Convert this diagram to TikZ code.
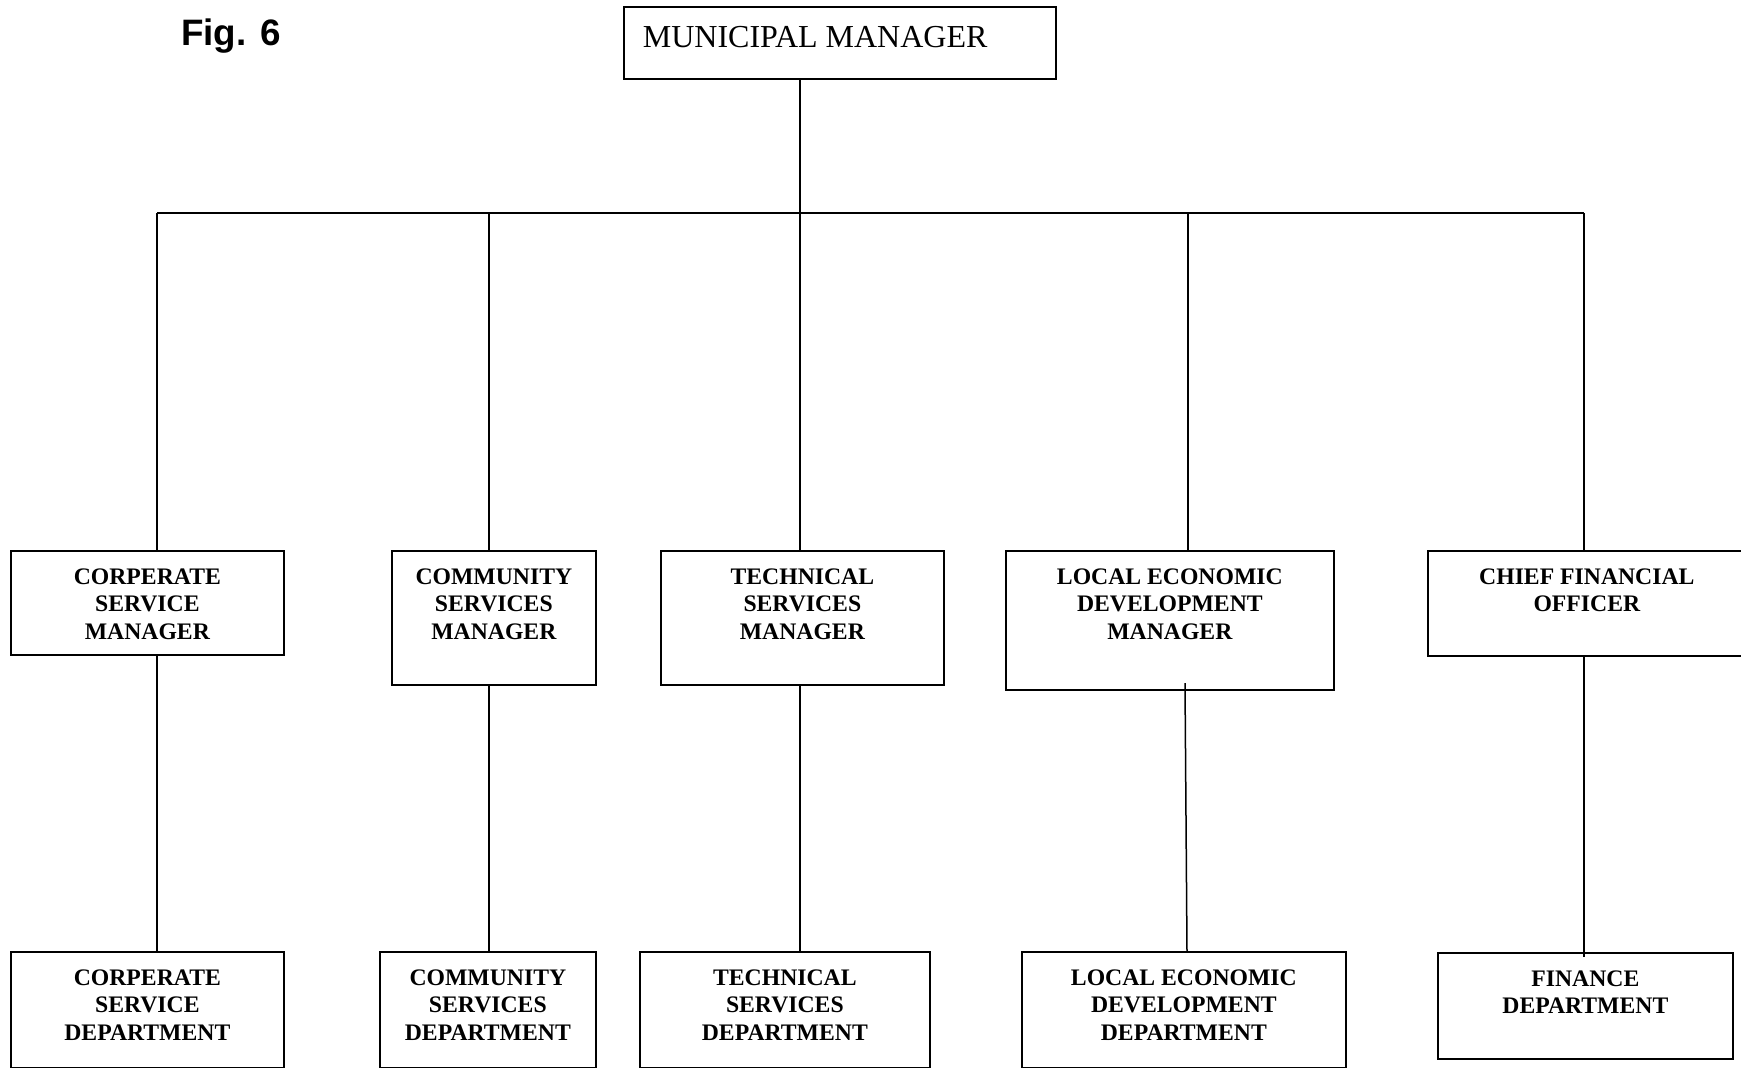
\documentclass[tikz,border=0pt]{standalone}
\usepackage{fontspec}
\setmainfont{Liberation Serif}
\newfontfamily\figfont{Liberation Sans}
\newcommand\bt[3]{\parbox[c][#2pt][t]{#1pt}{\centering\rule{0pt}{33.5pt}#3\par}}
\tikzset{
  orgbox/.style={draw, line width=1.7pt, inner sep=0pt, anchor=north west,
    font=\fontsize{23.7pt}{27.5pt}\selectfont\bfseries},
  conn/.style={line width=1.5pt},
}
\begin{document}
\begin{tikzpicture}[x=1pt,y=-1pt]
\clip (0,0) rectangle (1741,1068);
% title
\node[anchor=base west, inner sep=0pt, font=\fontsize{36.8pt}{40pt}\selectfont\figfont\bfseries] (fig) at (181,45) {Fig. 6};
% top box
\node[orgbox, font=\fontsize{32pt}{34pt}\selectfont] (mm) at (623,6)
  {\parbox[c][72pt][t]{432pt}{\noindent\hspace*{19pt}\rule{0pt}{41pt}MUNICIPAL MANAGER\par}};
% managers
\node[orgbox] (csm)  at (10,550)   {\bt{273}{104}{CORPERATE\\SERVICE\\MANAGER}};
\node[orgbox] (comsm) at (391,550) {\bt{204}{134}{COMMUNITY\\SERVICES\\MANAGER}};
\node[orgbox] (tsm)  at (660,550)  {\bt{283}{134}{TECHNICAL\\SERVICES\\MANAGER}};
\node[orgbox] (ledm) at (1005,550) {\bt{328}{139}{LOCAL ECONOMIC\\DEVELOPMENT\\MANAGER}};
\node[orgbox] (cfo)  at (1427,550) {\bt{318}{105}{CHIEF FINANCIAL\\OFFICER}};
% departments
\node[orgbox] (csd)  at (10,951)   {\bt{273}{116}{CORPERATE\\SERVICE\\DEPARTMENT}};
\node[orgbox] (comsd) at (379,951) {\bt{216}{116}{COMMUNITY\\SERVICES\\DEPARTMENT}};
\node[orgbox] (tsd)  at (639,951)  {\bt{290}{116}{TECHNICAL\\SERVICES\\DEPARTMENT}};
\node[orgbox] (ledd) at (1021,951) {\bt{324}{116}{LOCAL ECONOMIC\\DEVELOPMENT\\DEPARTMENT}};
\node[orgbox] (fd)   at (1437,952) {\bt{295}{106}{FINANCE\\DEPARTMENT}};
% junctions on the bus
\coordinate (j1) at (157,213);
\coordinate (j2) at (489,213);
\coordinate (j3) at (800,213);
\coordinate (j4) at (1188,213);
\coordinate (j5) at (1584,213);
\coordinate (ledtop) at (1185,683);
\coordinate (ledbot) at (1187,951);
\coordinate (fdend) at (1584,957);
% connectors
\draw[conn] (mm.south -| j3) -- (j3);
\draw[conn, line width=1.9pt] (j1) -- (j5);
\draw[conn] (j1) -- (j1 |- csm.north);
\draw[conn] (j2) -- (j2 |- comsm.north);
\draw[conn] (j3) -- (j3 |- tsm.north);
\draw[conn] (j4) -- (j4 |- ledm.north);
\draw[conn] (j5) -- (j5 |- cfo.north);
\draw[conn] (csm.south -| j1) -- (csd.north -| j1);
\draw[conn] (comsm.south -| j2) -- (comsd.north -| j2);
\draw[conn] (tsm.south -| j3) -- (tsd.north -| j3);
\draw[conn] (ledtop) -- (ledbot);
\draw[conn] (cfo.south -| j5) -- (fdend);
\end{tikzpicture}
\end{document}
